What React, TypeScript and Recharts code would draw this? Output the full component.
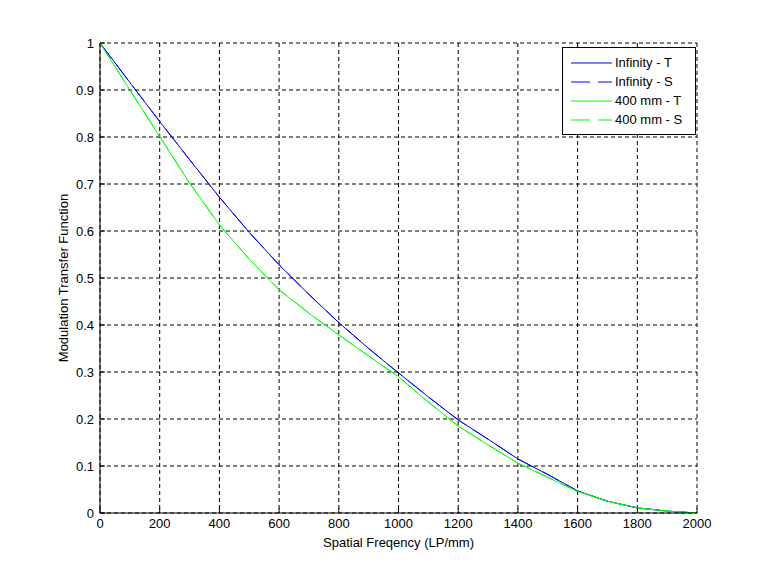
import React from 'react';
import { LineChart, Line, XAxis, YAxis, CartesianGrid, Legend, Label } from 'recharts';

const frequencies = [0, 100, 200, 300, 400, 500, 600, 700, 800, 900, 1000, 1100, 1200, 1300, 1400, 1500, 1600, 1700, 1800, 1900, 2000];
const infinityT = [1.0, 0.916, 0.833, 0.752, 0.672, 0.597, 0.528, 0.465, 0.405, 0.350, 0.298, 0.247, 0.198, 0.157, 0.115, 0.082, 0.047, 0.025, 0.011, 0.004, 0.0];
const infinityS = [1.0, 0.916, 0.833, 0.752, 0.672, 0.597, 0.528, 0.465, 0.405, 0.350, 0.298, 0.247, 0.198, 0.157, 0.115, 0.082, 0.047, 0.025, 0.011, 0.004, 0.0];
const mm400T = [1.0, 0.900, 0.801, 0.702, 0.613, 0.540, 0.475, 0.425, 0.379, 0.334, 0.290, 0.236, 0.185, 0.145, 0.106, 0.076, 0.046, 0.025, 0.011, 0.004, 0.0];
const mm400S = [1.0, 0.900, 0.801, 0.702, 0.613, 0.540, 0.475, 0.425, 0.379, 0.334, 0.290, 0.236, 0.185, 0.145, 0.106, 0.076, 0.046, 0.025, 0.011, 0.004, 0.0];

const xTicks = [0, 200, 400, 600, 800, 1000, 1200, 1400, 1600, 1800, 2000];
const yTicks = [0, 0.1, 0.2, 0.3, 0.4, 0.5, 0.6, 0.7, 0.8, 0.9, 1];

const seriesNames = ['Infinity - T', 'Infinity - S', '400 mm - T', '400 mm - S'];
const seriesColors = ['#0000ff', '#0000ff', '#00ff00', '#00ff00'];
const seriesDash = ['', '19 8', '', '19 8'];

const data = frequencies.map((f, i) => ({
  f,
  infT: infinityT[i],
  infS: infinityS[i],
  mmT: mm400T[i],
  mmS: mm400S[i],
}));

const FONT = '"Liberation Sans", Arial, sans-serif';
const FS = 13;

const LegendBox = () => (
  <div
    style={{
      border: '1px solid #000',
      background: '#fff',
      width: 132,
      height: 81,
      boxSizing: 'content-box',
      fontFamily: FONT,
      fontSize: FS,
      color: '#000',
      paddingTop: 5,
    }}
  >
    {seriesNames.map((name, i) => (
      <div key={name} style={{ display: 'flex', alignItems: 'center', height: 19, marginLeft: 8 }}>
        <svg width={41} height={4} style={{ display: 'block' }}>
          <line x1={0} y1={2} x2={41} y2={2} stroke={seriesColors[i]} strokeWidth={1} strokeDasharray={seriesDash[i] || undefined} />
        </svg>
        <span style={{ marginLeft: 3, lineHeight: '19px' }}>{name}</span>
      </div>
    ))}
  </div>
);

export default function App() {
  return (
    <div style={{ position: 'absolute', left: 0, top: 0, width: 769, height: 577, background: '#fff' }}>
      <LineChart
        width={769}
        height={577}
        data={data}
        margin={{ top: 43, right: 72, bottom: 6, left: 26 }}
      >
        <CartesianGrid stroke="#000" strokeDasharray="4 3" />
        <XAxis
          dataKey="f"
          type="number"
          domain={[0, 2000]}
          ticks={xTicks}
          interval={0}
          height={58}
          tickSize={-5}
          tickMargin={11}
          stroke="#000"
          axisLine={{ stroke: '#000' }}
          tickLine={{ stroke: '#000' }}
          tick={{ fill: '#000', fontSize: FS, fontFamily: FONT }}
          allowDataOverflow
        >
          <Label value="Spatial Freqency (LP/mm)" position="center" style={{ fill: '#000', fontSize: FS, fontFamily: FONT }} />
        </XAxis>
        <XAxis
          xAxisId="top"
          orientation="top"
          dataKey="f"
          type="number"
          domain={[0, 2000]}
          ticks={xTicks}
          interval={0}
          height={0}
          tickSize={-5}
          tickFormatter={() => ''}
          axisLine={{ stroke: '#000' }}
          tickLine={{ stroke: '#000' }}
          allowDataOverflow
        />
        <YAxis
          type="number"
          domain={[0, 1]}
          ticks={yTicks}
          interval={0}
          width={74}
          tickSize={-5}
          tickMargin={11}
          axisLine={{ stroke: '#000' }}
          tickLine={{ stroke: '#000' }}
          tick={{ fill: '#000', fontSize: FS, fontFamily: FONT }}
          allowDataOverflow
        >
          <Label value="Modulation Transfer Function" position="center" angle={-90} style={{ fill: '#000', fontSize: FS, fontFamily: FONT, textAnchor: 'middle' }} />
        </YAxis>
        <YAxis
          yAxisId="right"
          orientation="right"
          type="number"
          domain={[0, 1]}
          ticks={yTicks}
          interval={0}
          width={0}
          tickSize={-5}
          tickFormatter={() => ''}
          axisLine={{ stroke: '#000' }}
          tickLine={{ stroke: '#000' }}
          allowDataOverflow
        />
        <Legend
          layout="horizontal"
          verticalAlign="middle"
          align="center"
          content={() => <LegendBox />}
          wrapperStyle={{ position: 'absolute', left: 562, top: 47, width: 134, height: 87 }}
        />
        <Line dataKey="infT" name={seriesNames[0]} stroke={seriesColors[0]} strokeWidth={1} dot={false} isAnimationActive={false} />
        <Line dataKey="infS" name={seriesNames[1]} stroke={seriesColors[1]} strokeWidth={1} strokeDasharray="19 8" dot={false} isAnimationActive={false} />
        <Line dataKey="mmT" name={seriesNames[2]} stroke={seriesColors[2]} strokeWidth={1} dot={false} isAnimationActive={false} />
        <Line dataKey="mmS" name={seriesNames[3]} stroke={seriesColors[3]} strokeWidth={1} strokeDasharray="19 8" dot={false} isAnimationActive={false} />
      </LineChart>
    </div>
  );
}
